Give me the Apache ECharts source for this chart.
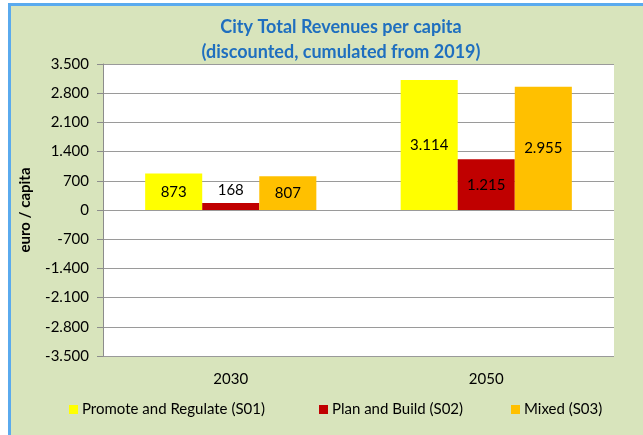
<!DOCTYPE html>
<html lang="en">
<head>
    <meta charset="UTF-8">
    <title>City Total Revenues per capita</title>
    <script type="text/javascript" src="https://cdn.jsdelivr.net/npm/echarts@6/dist/echarts.min.js"></script>
    <style>
        body { margin: 0; background: #ffffff; }
        #frame {
            position: absolute; left: 8px; top: 3px; width: 700px; height: 500px;
            background: #d8e4bc;
            border-left: 3px solid #5aaaee;
            border-top: 3px solid #5aaaee;
        }
        #container { position: absolute; left: 0; top: 0; width: 643px; height: 435px; }
    </style>
</head>
<body>
<div id="frame"></div>
<div id="container"></div>
<script type="text/javascript">
    // data
    var years = ['2030', '2050'];
    var s01 = [873, 3114];
    var s02 = [168, 1215];
    var s03 = [807, 2955];
    var names = ['Promote and Regulate (S01)', 'Plan and Build (S02)', 'Mixed (S03)'];

    // 1234 -> "1.234"
    function fmt(v) {
        var s = Math.abs(v).toString().replace(/\B(?=(\d{3})+(?!\d))/g, '.');
        return (v < 0 ? '-' : '') + s;
    }

    var font = 'Lato';
    var myChart = echarts.init(document.getElementById('container'), null, {renderer: 'canvas'});

    function bar(name, vals, color, pos) {
        return {
            name: name,
            type: 'bar',
            data: vals.map(function (v, i) {
                return {value: v, label: {position: pos[i]}};
            }),
            itemStyle: {color: color},
            barGap: '0%',
            barCategoryGap: '33%',
            label: {
                show: true,
                color: '#000',
                fontFamily: font,
                fontSize: 15,
                formatter: function (p) { return fmt(p.value); }
            }
        };
    }

    function leg(name, x) {
        return {
            left: x,
            top: 397,
            itemWidth: 9,
            itemHeight: 9,
            itemGap: 0,
            icon: 'rect',
            textStyle: {fontFamily: font, fontSize: 15, color: '#000', padding: [0, 0, 0, -1]},
            data: [name]
        };
    }

    var option = {
        animation: false,
        backgroundColor: 'transparent',
        title: {
            text: 'City Total Revenues per capita\n(discounted, cumulated from 2019)',
            left: 336,
            top: 10,
            textAlign: 'center',
            textStyle: {color: '#1f6fbf', fontFamily: font, fontWeight: 'bold', fontSize: 18, lineHeight: 25}
        },
        grid: {left: 103, right: 29, top: 64, bottom: 79, show: true, backgroundColor: '#fff', borderWidth: 0},
        legend: [leg(names[0], 64), leg(names[1], 314), leg(names[2], 506)],
        xAxis: {
            type: 'category',
            data: years,
            axisLine: {show: false},
            axisTick: {show: false},
            axisLabel: {margin: 16, color: '#000', fontFamily: font, fontSize: 15}
        },
        yAxis: {
            type: 'value',
            min: -3500,
            max: 3500,
            interval: 700,
            name: 'euro / capita',
            nameLocation: 'middle',
            nameRotate: 90,
            nameGap: 70,
            nameTextStyle: {color: '#000', fontFamily: font, fontWeight: 'bold', fontSize: 15},
            axisLine: {show: true, lineStyle: {color: '#8c8c8c'}},
            axisTick: {show: true, inside: false, length: 6, lineStyle: {color: '#8c8c8c'}},
            splitLine: {lineStyle: {color: '#9a9a9a', width: 1}},
            axisLabel: {
                margin: 14,
                color: '#000',
                fontFamily: font,
                fontSize: 15,
                formatter: fmt
            }
        },
        series: [
            bar(names[0], s01, '#ffff00', ['inside', 'inside']),
            bar(names[1], s02, '#c00000', ['top', 'inside']),
            bar(names[2], s03, '#ffc000', ['inside', 'inside'])
        ]
    };

    myChart.setOption(option);
    window.addEventListener('resize', myChart.resize);
</script>
</body>
</html>
